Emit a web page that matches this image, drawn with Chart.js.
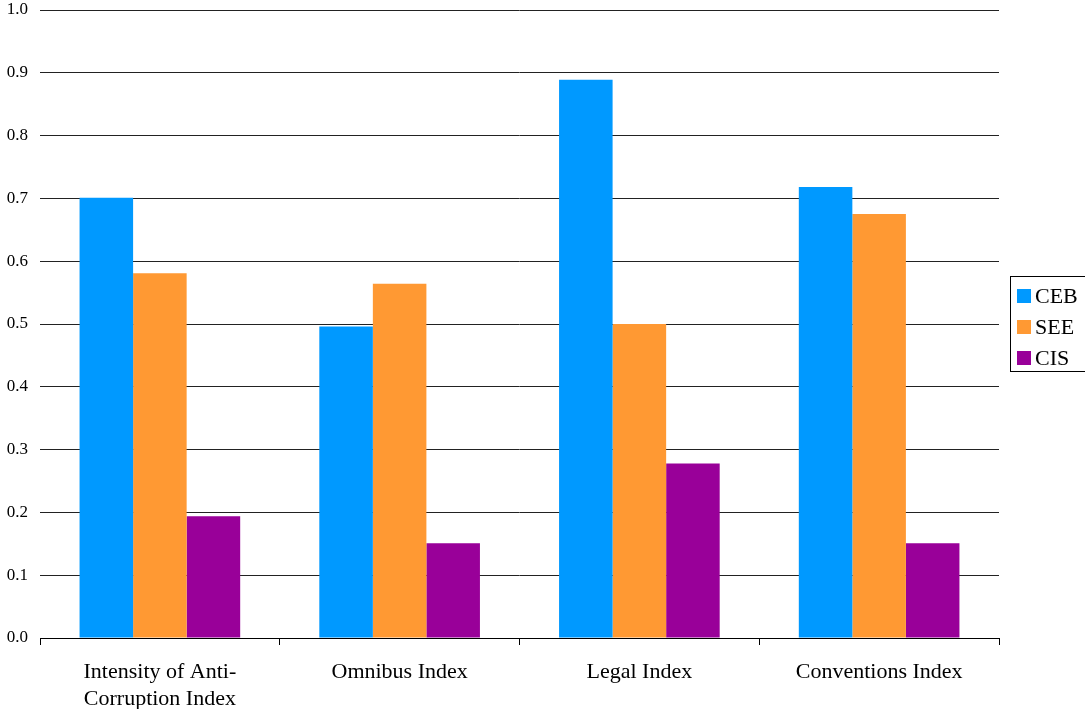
<!DOCTYPE html>
<html>
<head>
<meta charset="utf-8">
<script src="https://cdn.jsdelivr.net/npm/chart.js@4"></script>
<style>
  html, body { margin: 0; padding: 0; background: #fff; }
  #wrap { width: 1085px; height: 709px; position: relative; }
</style>
</head>
<body>
<div id="wrap"><canvas id="c"></canvas></div>
<script>
// Index categories (multi-line labels)
const categories = [
  ['Intensity of Anti-', 'Corruption Index'],
  'Omnibus Index',
  'Legal Index',
  'Conventions Index'
];
// Regional group values
const ceb = [0.701, 0.496, 0.889, 0.718];
const see = [0.581, 0.564, 0.500, 0.675];
const cis = [0.194, 0.151, 0.278, 0.151];
const seriesNames = ['CEB', 'SEE', 'CIS'];
const seriesColors = ['#0099FF', '#FF9933', '#990099'];

const serif = "'Liberation Serif', 'Times New Roman', serif";

// Boxed legend drawn at the right edge of the canvas
const boxedLegend = {
  id: 'boxedLegend',
  afterDraw(chart) {
    const ctx = chart.ctx;
    const x = 1010.5, y = 276.5, w = 80, h = 95;
    ctx.save();
    ctx.strokeStyle = '#000';
    ctx.lineWidth = 1;
    ctx.strokeRect(x, y, w, h);
    ctx.font = '22px ' + serif;
    ctx.textBaseline = 'middle';
    ctx.textAlign = 'left';
    chart.data.datasets.forEach((ds, i) => {
      const cy = 296 + i * 31;
      ctx.fillStyle = ds.backgroundColor;
      ctx.fillRect(1017, cy - 7, 14, 14);
      ctx.fillStyle = '#000';
      ctx.fillText(ds.label, 1035, cy + 1);
    });
    ctx.restore();
  }
};

new Chart(document.getElementById('c'), {
  type: 'bar',
  data: {
    labels: categories,
    datasets: [
      { label: seriesNames[0], data: ceb, backgroundColor: seriesColors[0] },
      { label: seriesNames[1], data: see, backgroundColor: seriesColors[1] },
      { label: seriesNames[2], data: cis, backgroundColor: seriesColors[2] }
    ]
  },
  options: {
    responsive: true,
    maintainAspectRatio: false,
    animation: false,
    layout: { padding: { top: 0, right: 86, left: 0, bottom: 0 } },
    datasets: { bar: { categoryPercentage: 0.67, barPercentage: 1.0, borderWidth: 0 } },
    plugins: {
      legend: { display: false },
      tooltip: { enabled: false }
    },
    scales: {
      x: {
        grid: {
          offset: true,
          drawOnChartArea: false,
          drawTicks: true,
          tickLength: 7,
          color: '#000'
        },
        border: { display: true, color: '#000', width: 1 },
        ticks: {
          color: '#000',
          font: { family: serif, size: 22, lineHeight: 1.22 },
          padding: 14,
          maxRotation: 0,
          autoSkip: false
        },
        afterFit(scale) { scale.height = 71; }
      },
      y: {
        min: 0,
        max: 1,
        grid: {
          color: '#222',
          lineWidth: 1,
          drawTicks: false
        },
        border: { display: false },
        ticks: {
          stepSize: 0.1,
          color: '#000',
          font: { family: serif, size: 17 },
          padding: 12,
          callback: v => Number(v).toFixed(1)
        },
        afterFit(scale) { scale.width = 40; scale.paddingTop = 10; }
      }
    }
  },
  plugins: [boxedLegend]
});
</script>
</body>
</html>
